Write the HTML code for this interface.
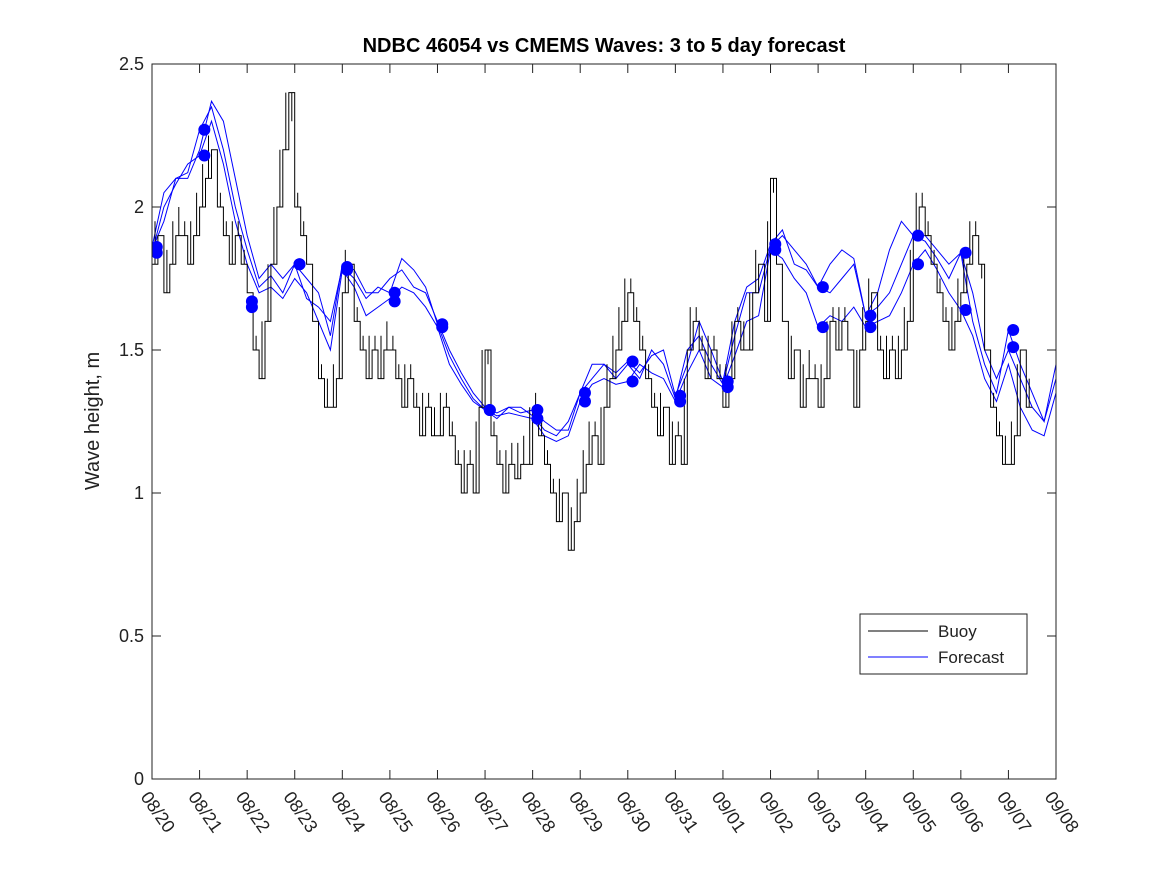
<!DOCTYPE html>
<html><head><meta charset="utf-8"><style>
body{margin:0;background:#fff;}
svg{display:block;font-family:"Liberation Sans","DejaVu Sans",sans-serif;}
</style></head><body>
<svg id="chart" width="1167" height="875">
<defs><clipPath id="pc"><rect x="152" y="64" width="904" height="715"/></clipPath></defs>
<rect width="1167" height="875" fill="#fff"/>
<text x="604" y="52" text-anchor="middle" font-size="20" font-weight="bold">NDBC 46054 vs CMEMS Waves: 3 to 5 day forecast</text>
<text transform="translate(99,421) rotate(-90)" text-anchor="middle" font-size="20" fill="#222">Wave height, m</text>
<g id="axes"></g>
<g id="plot" clip-path="url(#pc)"></g>
<rect x="152" y="64" width="904" height="715" fill="none" stroke="#222" stroke-width="1"/>
<g>
<rect x="860" y="614" width="167" height="60" fill="#fff" stroke="#222"/>
<line x1="868" y1="631" x2="928" y2="631" stroke="#000"/>
<text x="938" y="637" font-size="17" fill="#222">Buoy</text>
<line x1="868" y1="657" x2="928" y2="657" stroke="#00f"/>
<text x="938" y="663" font-size="17" fill="#222">Forecast</text>
</g>
</svg>
<script>
const xTickLabels=["08/20","08/21","08/22","08/23","08/24","08/25","08/26","08/27","08/28","08/29","08/30","08/31","09/01","09/02","09/03","09/04","09/05","09/06","09/07","09/08"];
const yTicks=[0,0.5,1,1.5,2,2.5];
const yTickLabels=["0","0.5","1","1.5","2","2.5"];
const buoy=[1.8,1.9,1.7,1.8,1.9,1.9,1.8,1.9, 2.0,2.1,2.2,2.0,1.9,1.8,1.9,1.8, 1.7,1.5,1.4,1.6,1.8,2.0,2.2,2.4, 2.0,1.9,1.8,1.6,1.4,1.3,1.3,1.4, 1.7,1.8,1.6,1.5,1.4,1.5,1.4,1.5, 1.5,1.4,1.3,1.4,1.3,1.2,1.3,1.2, 1.2,1.3,1.2,1.1,1.0,1.1,1.0,1.3, 1.5,1.2,1.1,1.0,1.1,1.05,1.1,1.1, 1.3,1.2,1.1,1.0,0.9,1.0,0.8,0.9, 1.0,1.1,1.2,1.1,1.3,1.4,1.5,1.6, 1.7,1.6,1.5,1.4,1.3,1.2,1.3,1.1, 1.2,1.1,1.5,1.6,1.5,1.4,1.5,1.4, 1.3,1.4,1.6,1.5,1.5,1.7,1.8,1.6, 2.1,1.8,1.6,1.4,1.5,1.3,1.4,1.4, 1.3,1.4,1.6,1.5,1.6,1.5,1.3,1.5, 1.6,1.7,1.5,1.4,1.5,1.4,1.5,1.6, 1.9,2.0,1.9,1.8,1.7,1.6,1.5,1.6, 1.7,1.8,1.9,1.8,1.5,1.3,1.2,1.1, 1.1,1.2,1.5,1.3];
const fcA=[1.85,1.95,2.1,2.1, 2.2,2.37,2.3,2.1, 1.9,1.75,1.8,1.75, 1.8,1.75,1.7,1.55, 1.8,1.78,1.7,1.7, 1.75,1.78,1.72,1.7, 1.6,1.5,1.42,1.35, 1.3,1.28,1.3,1.3, 1.27,1.22,1.2,1.25, 1.35,1.4,1.45,1.4, 1.45,1.4,1.5,1.45, 1.33,1.5,1.55,1.45, 1.38,1.55,1.7,1.7, 1.86,1.9,1.85,1.8, 1.72,1.7,1.75,1.8, 1.62,1.65,1.7,1.8, 1.9,1.9,1.85,1.8, 1.84,1.7,1.5,1.4, 1.5,1.4,1.3,1.25, 1.4];
const fcB=[1.84,2.0,2.08,2.15, 2.18,2.3,2.15,1.95, 1.8,1.7,1.72,1.68, 1.75,1.7,1.6,1.5, 1.78,1.72,1.62,1.65, 1.68,1.72,1.7,1.65, 1.58,1.45,1.38,1.32, 1.29,1.27,1.28,1.27, 1.26,1.2,1.18,1.2, 1.32,1.38,1.4,1.38, 1.39,1.45,1.42,1.4, 1.32,1.42,1.5,1.4, 1.37,1.48,1.6,1.62, 1.85,1.82,1.75,1.7, 1.58,1.62,1.6,1.65, 1.58,1.6,1.62,1.7, 1.8,1.85,1.78,1.7, 1.64,1.55,1.4,1.32, 1.45,1.3,1.22,1.2, 1.35];
const fcC=[1.86,2.05,2.1,2.12, 2.27,2.35,2.2,2.0, 1.85,1.72,1.76,1.7, 1.8,1.68,1.65,1.6, 1.79,1.75,1.68,1.72, 1.7,1.82,1.78,1.72, 1.59,1.48,1.4,1.33, 1.29,1.26,1.3,1.28, 1.29,1.25,1.22,1.22, 1.35,1.45,1.45,1.42, 1.46,1.42,1.48,1.5, 1.34,1.45,1.6,1.5, 1.39,1.6,1.72,1.75, 1.87,1.92,1.8,1.78, 1.72,1.8,1.85,1.82, 1.62,1.7,1.85,1.95, 1.9,1.88,1.82,1.75, 1.84,1.6,1.45,1.35, 1.57,1.45,1.35,1.25, 1.45];
const dotDays=[0.1,0.1,1.1,1.1,2.1,2.1,3.1,3.1,4.1,4.1,5.1,5.1,6.1,6.1,7.1,7.1,8.1,8.1,9.1,9.1,10.1,10.1,11.1,11.1,12.1,12.1,13.1,13.1,14.1,14.1,15.1,15.1,16.1,16.1,17.1,17.1,18.1,18.1];
const dotVals=[1.86,1.84,2.27,2.18,1.67,1.65,1.80,1.80,1.79,1.78,1.70,1.67,1.59,1.58,1.29,1.29,1.29,1.26,1.35,1.32,1.46,1.39,1.34,1.32,1.39,1.37,1.87,1.85,1.72,1.58,1.62,1.58,1.90,1.80,1.84,1.64,1.57,1.51];

const X0=152,X1=1056,Y0=779,Y1=64;
const xs=d=>X0+d*(X1-X0)/19;
const ys=v=>Y0-v*(Y0-Y1)/2.5;
const NS="http://www.w3.org/2000/svg";
const g=document.getElementById('plot');
const ga=document.getElementById('axes');
function mk(t,a,p){const e=document.createElementNS(NS,t);for(const k in a)e.setAttribute(k,a[k]);(p||g).appendChild(e);return e;}

yTicks.forEach((v,i)=>{
  const y=ys(v);
  mk('line',{x1:X0,y1:y,x2:X0+9,y2:y,stroke:'#222'},ga);
  mk('line',{x1:X1,y1:y,x2:X1-9,y2:y,stroke:'#222'},ga);
  const t=mk('text',{x:X0-8,y:y+6,'text-anchor':'end','font-size':18,fill:'#222'},ga);
  t.textContent=yTickLabels[i];
  
  
});
xTickLabels.forEach((s,i)=>{
  const x=xs(i);
  mk('line',{x1:x,y1:Y0,x2:x,y2:Y0-9,stroke:'#222'},ga);
  mk('line',{x1:x,y1:Y1,x2:x,y2:Y1+9,stroke:'#222'},ga);
  const t=mk('text',{transform:`translate(${x-12},${Y0+18}) rotate(55)`,'font-size':18,fill:'#222'},ga);
  t.textContent=s;
  
  
});
function line(arr,color,name){
  const p=arr.map((v,i)=>xs(i*0.25).toFixed(1)+','+ys(v).toFixed(1)).join(' ');
  const e=mk('polyline',{points:p,fill:'none',stroke:color,'stroke-width':1});
  
  
}
line(fcA,'#00f','forecast-line-a');
line(fcB,'#00f','forecast-line-b');
line(fcC,'#00f','forecast-line-c');
(function(){
  const dt=0.125;let d='';
  buoy.forEach((v,i)=>{
    const x=xs(i*dt),y=ys(v),xm=xs(i*dt+dt*0.5),xe=xs((i+1)*dt);
    const vm=i+1<buoy.length?buoy[i+1]:v;
    if(i===0)d+=`M${x.toFixed(1)},${y.toFixed(1)}`;else d+=`L${x.toFixed(1)},${y.toFixed(1)}`;
    d+=`L${xm.toFixed(1)},${y.toFixed(1)}L${xm.toFixed(1)},${ys((v+vm)/2+0.1).toFixed(1)}L${xm.toFixed(1)},${y.toFixed(1)}L${xe.toFixed(1)},${y.toFixed(1)}`;
  });
  const e=mk('path',{d:d,fill:'none',stroke:'#000','stroke-width':1});
  
  
})();
dotDays.forEach((d,i)=>{
  const c=mk('circle',{cx:xs(d),cy:ys(dotVals[i]),r:6,fill:'#00f'});
  
  
});
</script>
</body></html>
